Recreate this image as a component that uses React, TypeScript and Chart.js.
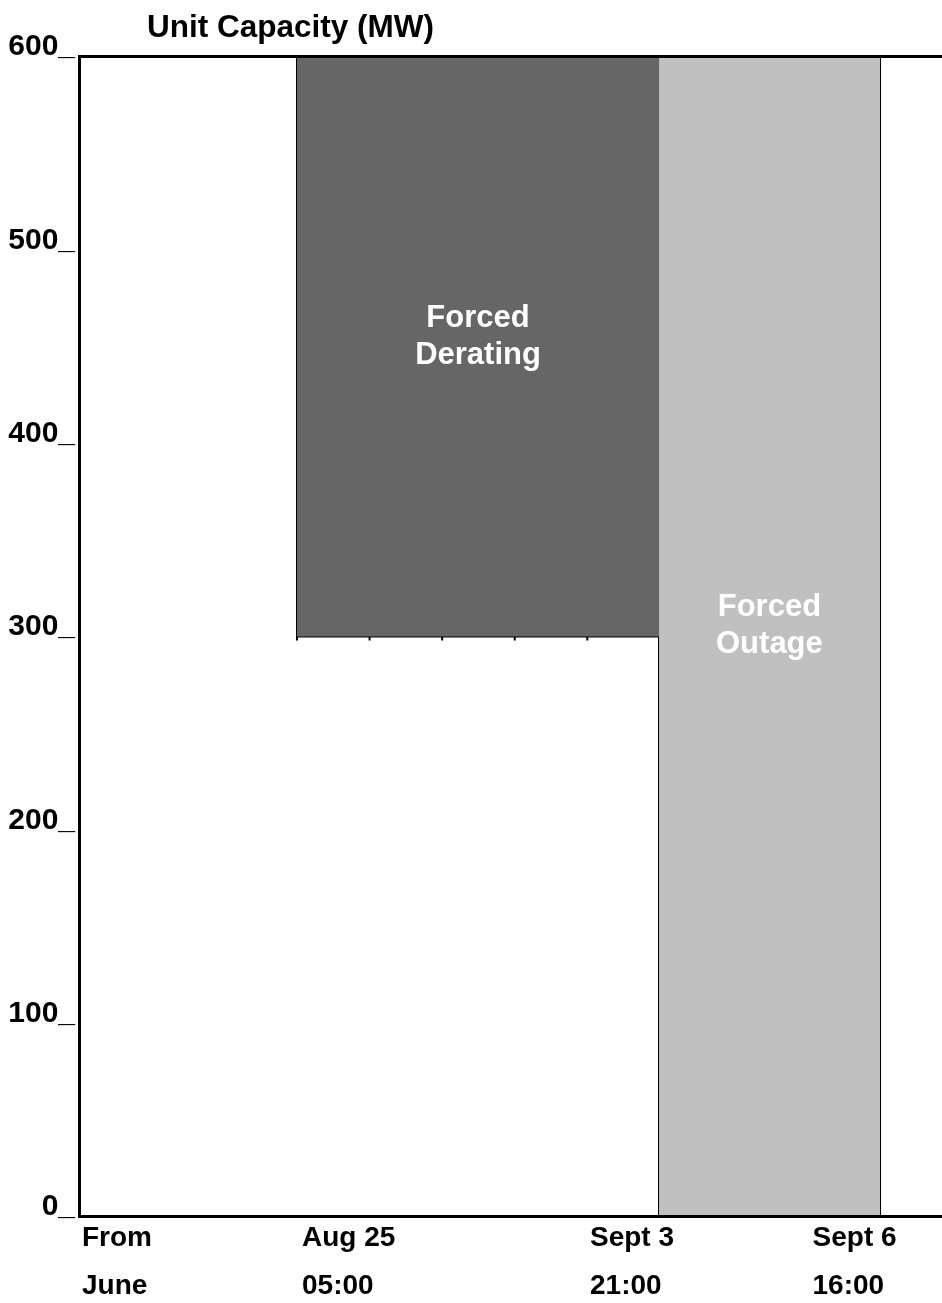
import React, { useEffect, useRef } from 'react';
import { Chart, registerables } from 'chart.js';

Chart.register(...registerables);

// ---- data ----
// schematic timeline (0 = start of axis, 100 = right edge of axis)
const chartTitle = 'Unit Capacity (MW)';
const yTickValues = [0, 100, 200, 300, 400, 500, 600];
const eventLabels = [
  ['From', 'June'],
  ['Aug 25', '05:00'],
  ['Sept 3', '21:00'],
  ['Sept 6', '16:00'],
];
const eventLabelPositions = [0.35, 25.84, 59.21, 85.0];

// Forced derating: capacity reduced from 600 MW to 300 MW
const deratingX = [25.26, 67.21];
const deratingLevel = [300, 300];
const deratingOutlineX = [25.26, 25.26, 67.21, 67.21];
const deratingOutlineY = [600, 300, 300, 600];

// Forced outage: capacity reduced to 0 MW
const outageX = [67.21, 92.82];
const outageLevel = [0, 0];
const outageOutlineX = [67.21, 67.21, 92.82, 92.82];
const outageOutlineY = [0, 600, 600, 0];

// hour marks under the derating block
const hourMarksX = [25.26, 33.67, 42.08, 50.49, 58.9];
const hourMarksY = [300, 300, 300, 300, 300];

const regionNames = [
  ['Forced', 'Derating'],
  ['Forced', 'Outage'],
];
const regionLabelX = [46.24, 80.0];
const regionLabelY = [455, 305.5];

const FONT = "'Liberation Sans', Arial, Helvetica, sans-serif";

const toPts = (xs: number[], ys: number[]) => xs.map((x, i) => ({ x, y: ys[i] }));

const headlinePlugin = {
  id: 'headline',
  afterDraw(chart: any) {
    const ctx = chart.ctx;
    ctx.save();
    ctx.font = `bold 31.5px ${FONT}`;
    ctx.fillStyle = '#000';
    ctx.textAlign = 'left';
    ctx.textBaseline = 'middle';
    ctx.fillText(chartTitle, 147, 28);
    ctx.restore();
  },
};

const regionLabelPlugin = {
  id: 'regionLabels',
  afterDatasetsDraw(chart: any) {
    const ctx = chart.ctx;
    const xs = chart.scales.x;
    const ys = chart.scales.y;
    ctx.save();
    ctx.font = `bold 31px ${FONT}`;
    ctx.fillStyle = '#ffffff';
    ctx.textAlign = 'center';
    ctx.textBaseline = 'middle';
    const lh = 37;
    regionNames.forEach((lines, i) => {
      const cx = xs.getPixelForValue(regionLabelX[i]);
      const cy = ys.getPixelForValue(regionLabelY[i]);
      lines.forEach((t, j) => {
        ctx.fillText(t, cx, cy + (j - (lines.length - 1) / 2) * lh);
      });
    });
    ctx.restore();
  },
};

const noPad = (scale: any) => {
  scale.paddingLeft = 0;
  scale.paddingRight = 0;
  scale.paddingTop = 0;
  scale.paddingBottom = 0;
};

function CapacityChart() {
  const ref = useRef<HTMLCanvasElement | null>(null);

  useEffect(() => {
    if (!ref.current) return;
    Chart.defaults.font.family = FONT;
    Chart.defaults.color = '#000';
    const chart = new Chart(ref.current, {
      type: 'line',
      data: {
        datasets: [
          {
            label: 'Forced Derating',
            data: toPts(deratingX, deratingLevel),
            fill: 'end',
            backgroundColor: '#666666',
            borderWidth: 0,
            pointRadius: 0,
          },
          {
            label: 'Forced Outage',
            data: toPts(outageX, outageLevel),
            fill: 'end',
            backgroundColor: '#c0c0c0',
            borderWidth: 0,
            pointRadius: 0,
          },
          {
            label: 'derating outline',
            data: toPts(deratingOutlineX, deratingOutlineY),
            fill: false,
            borderColor: '#000',
            borderWidth: 2,
            pointRadius: 0,
            tension: 0,
          },
          {
            label: 'outage outline',
            data: toPts(outageOutlineX, outageOutlineY),
            fill: false,
            borderColor: '#000',
            borderWidth: 2,
            pointRadius: 0,
            tension: 0,
          },
          {
            label: 'hour marks',
            data: toPts(hourMarksX, hourMarksY),
            showLine: false,
            pointStyle: 'line',
            rotation: 90,
            pointRadius: 4,
            borderColor: '#000',
            borderWidth: 2,
            clip: false as any,
          },
        ],
      } as any,
      options: {
        animation: false,
        responsive: true,
        maintainAspectRatio: false,
        layout: { autoPadding: false, padding: { top: 56.5, left: 0, right: 0, bottom: 0 } },
        plugins: {
          legend: { display: false },
          tooltip: { enabled: false },
          title: { display: false },
        },
        scales: {
          x: {
            type: 'linear',
            position: 'bottom',
            min: 0,
            max: 100,
            grid: { display: false, drawTicks: false },
            border: { display: true, color: '#000', width: 3, z: 2 } as any,
            afterBuildTicks: (scale: any) => {
              scale.ticks = eventLabelPositions.map((v) => ({ value: v }));
            },
            afterFit: (scale: any) => {
              scale.height = 86.5;
              noPad(scale);
            },
            ticks: {
              autoSkip: false,
              maxRotation: 0,
              minRotation: 0,
              align: 'start',
              padding: -2,
              color: '#000',
              font: { size: 28, weight: 'bold', lineHeight: 48 / 28 },
              callback: (_v: any, i: number) => eventLabels[i],
            },
          },
          xTop: {
            type: 'linear',
            position: 'top',
            min: 0,
            max: 100,
            grid: { display: false, drawTicks: false },
            border: { display: true, color: '#000', width: 3, z: 2 } as any,
            ticks: { display: false },
            afterFit: (scale: any) => {
              scale.height = 0;
              noPad(scale);
            },
          },
          y: {
            type: 'linear',
            min: 0,
            max: 600,
            grid: { display: false, drawTicks: false },
            border: { display: true, color: '#000', width: 3, z: 2 } as any,
            afterBuildTicks: (scale: any) => {
              scale.ticks = yTickValues.map((v) => ({ value: v }));
            },
            afterFit: (scale: any) => {
              scale.width = 79;
              noPad(scale);
            },
            ticks: {
              padding: 4,
              color: '#000',
              font: { size: 30, weight: 'bold', lineHeight: 19 / 30 },
              callback: (v: any) => [`${v}_`, ''],
            },
          },
        },
      } as any,
      plugins: [headlinePlugin, regionLabelPlugin],
    });
    return () => chart.destroy();
  }, []);

  return (
    <div style={{ position: 'absolute', left: 0, top: 0, width: 942, height: 1303 }}>
      <canvas ref={ref} />
    </div>
  );
}

export default function App() {
  return <CapacityChart />;
}
